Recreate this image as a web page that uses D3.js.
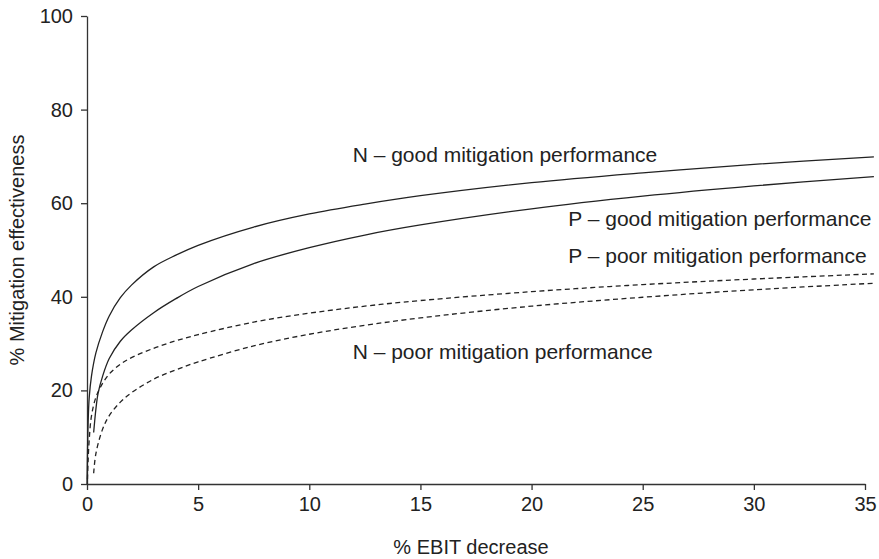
<!DOCTYPE html>
<html>
<head>
<meta charset="utf-8">
<script src="https://cdn.jsdelivr.net/npm/d3@7"></script>
<style>
  body { margin: 0; background: #fff; }
  text { font-family: "Liberation Sans", Arial, sans-serif; fill: #222; }
</style>
</head>
<body>
<div id="chart"></div>
<script>
// data
const xTicks = [0, 5, 10, 15, 20, 25, 30, 35]
const yTicks = [0, 20, 40, 60, 80, 100]

const nGoodX = [0, 0.05, 0.1, 0.2, 0.4, 0.7, 1, 1.5, 2, 3, 4, 5, 7.5, 10, 12.5, 15, 20, 25, 30, 35.4]
const nGoodY = [0, 13, 18.5, 23, 28, 32.5, 35.9, 39.8, 42.5, 46.4, 48.9, 51, 54.9, 57.7, 59.8, 61.6, 64.4, 66.5, 68.3, 69.9]

const pGoodX = [0.3, 0.4, 0.5, 0.7, 1, 1.5, 2, 3, 4, 5, 7.5, 10, 12.5, 15, 20, 25, 30, 35.4]
const pGoodY = [11, 16, 19.4, 23, 26.8, 30.5, 32.9, 36.6, 39.6, 42.2, 47.1, 50.5, 53.2, 55.35, 58.8, 61.5, 63.7, 65.7]

const pPoorX = [0.02, 0.05, 0.1, 0.2, 0.4, 0.7, 1, 1.5, 2, 3, 4, 5, 7.5, 10, 12.5, 15, 20, 25, 30, 35.4]
const pPoorY = [1, 5, 9.5, 14.5, 18.5, 21.5, 23.5, 25.6, 27, 29, 30.6, 31.9, 34.6, 36.5, 38, 39.2, 41.1, 42.6, 43.8, 44.9]

const nPoorX = [0.3, 0.4, 0.7, 1, 1.5, 2, 3, 4, 5, 7.5, 10, 12.5, 15, 20, 25, 30, 35.4]
const nPoorY = [2.3, 6.5, 11.7, 14.6, 17.5, 19.5, 22.4, 24.4, 26.1, 29.5, 32, 33.9, 35.5, 38, 39.9, 41.5, 42.9]

const seriesNames = ["N – good mitigation performance", "P – good mitigation performance",
  "P – poor mitigation performance", "N – poor mitigation performance"]
// where each label sits (x of its left edge, y of its baseline), in data units
const labelX = [11.95, 21.65, 21.65, 11.95]
const labelY = [68.9, 55.1, 47.2, 26.7]

let W = 879, H = 559
let margin = { top: 16, left: 87 },
    width = 865 - margin.left,
    height = 484 - margin.top;

let svg = d3.select("#chart").append("svg")
    .attr("width", W)
    .attr("height", H)

let g = svg.append("g")
    .attr("transform", "translate(" + margin.left + "," + margin.top + ")")

let x = d3.scaleLinear().domain([0, 35]).range([0, width])
let y = d3.scaleLinear().domain([0, 100]).range([height, 0])

// axes
g.append("g")
    .attr("transform", "translate(0," + height + ")")
    .call(d3.axisBottom(x).tickValues(xTicks).tickSize(6).tickSizeOuter(0).tickPadding(7))
g.append("g")
    .call(d3.axisLeft(y).tickValues(yTicks).tickSize(6).tickSizeOuter(0).tickPadding(8))

g.selectAll(".domain, .tick line").attr("stroke", "#333").attr("stroke-width", 1.3)
g.selectAll(".tick text").attr("font-size", 20).attr("fill", "#222")
    .style("font-family", "'Liberation Sans', Arial, sans-serif")

// curves
let line = d3.line()
    .x(d => x(d[0]))
    .y(d => y(d[1]))
    .curve(d3.curveCatmullRom.alpha(0.5))

let curves = [
  { xs: nGoodX, ys: nGoodY, dash: null },
  { xs: pGoodX, ys: pGoodY, dash: null },
  { xs: pPoorX, ys: pPoorY, dash: "5,3.5" },
  { xs: nPoorX, ys: nPoorY, dash: "5,3.5" }
]

curves.forEach(c => {
  let pts = c.xs.map((v, i) => [v, c.ys[i]])
  g.append("path")
    .datum(pts)
    .attr("d", line)
    .attr("fill", "none")
    .attr("stroke", "#222")
    .attr("stroke-width", 1.3)
    .attr("stroke-dasharray", c.dash)
})

// curve labels
seriesNames.forEach((name, i) => {
  g.append("text")
    .attr("x", x(labelX[i]))
    .attr("y", y(labelY[i]))
    .attr("font-size", 21)
    .text(name)
})

// axis titles
svg.append("text")
    .attr("x", 471)
    .attr("y", 554)
    .attr("text-anchor", "middle")
    .attr("font-size", 20)
    .text("% EBIT decrease")

svg.append("text")
    .attr("transform", "translate(24," + (margin.top + height / 2) + ") rotate(-90)")
    .attr("text-anchor", "middle")
    .attr("font-size", 20)
    .text("% Mitigation effectiveness")
</script>
</body>
</html>
